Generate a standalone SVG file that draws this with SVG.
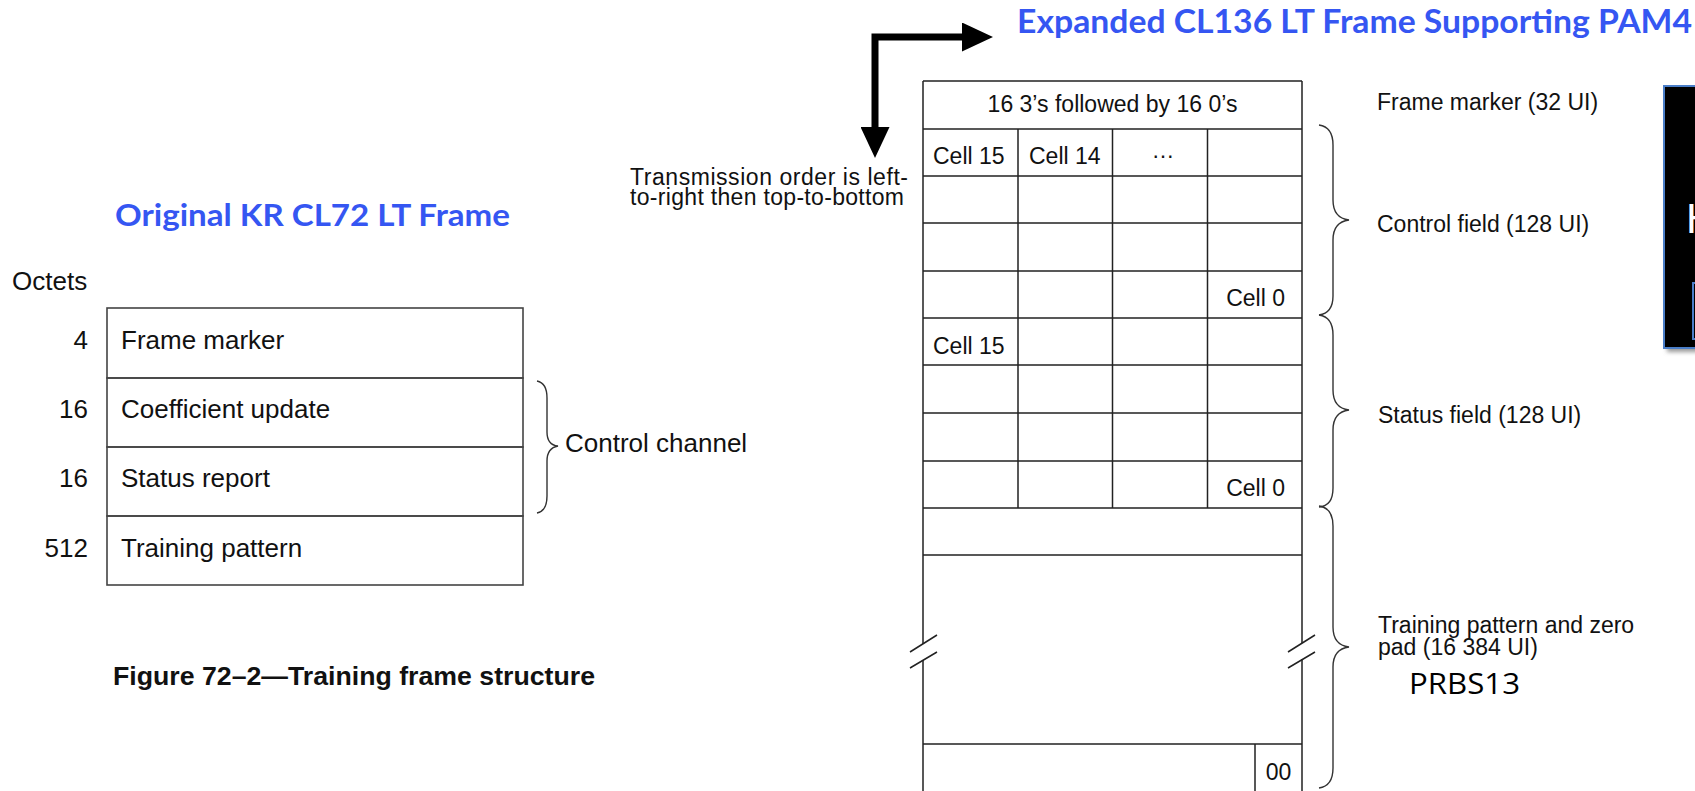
<svg xmlns="http://www.w3.org/2000/svg" width="1695" height="791" viewBox="0 0 1695 791">
<style>
  .t { font-family: "Liberation Sans", Arial, Helvetica, sans-serif; fill: #111; }
  .l26 { font-size: 26px; }
  .r23 { font-size: 23px; }
  .title { font-family: Lato, "Open Sans", sans-serif; font-weight: bold; fill: #3556F2; }
  .box { fill: none; stroke: #444; stroke-width: 1.6; }
  .grid { fill: none; stroke: #222; stroke-width: 1.5; }
  .brace { fill: none; stroke: #333; stroke-width: 1.4; }
  .arrow { fill: none; stroke: #000; stroke-width: 7; }
</style>
<defs>
  <marker id="head" viewBox="0 0 31 29" refX="0" refY="14.5" markerWidth="31" markerHeight="29" markerUnits="userSpaceOnUse" orient="auto-start-reverse">
    <path d="M0,0 L31,14.5 L0,29 z" fill="#000"/>
  </marker>
  <filter id="shadow" x="-20%" y="-10%" width="140%" height="130%">
    <feGaussianBlur stdDeviation="2"/>
  </filter>
</defs>
<rect width="1695" height="791" fill="#fff"/>

<!-- Left: original frame -->
<g id="title-original">
  <text class="title" x="115" y="226" font-size="31" textLength="395" lengthAdjust="spacingAndGlyphs">Original KR CL72 LT Frame</text>
</g>
<g id="octets-label">
  <text class="t l26" x="12" y="290">Octets</text>
</g>
<g id="row-frame-marker">
  <rect class="box" x="107" y="308" width="416" height="70"/>
  <text class="t l26" x="88" y="349" text-anchor="end">4</text>
  <text class="t l26" x="121" y="349">Frame marker</text>
</g>
<g id="row-coefficient-update">
  <rect class="box" x="107" y="378" width="416" height="69"/>
  <text class="t l26" x="88" y="418" text-anchor="end">16</text>
  <text class="t l26" x="121" y="418">Coefficient update</text>
</g>
<g id="row-status-report">
  <rect class="box" x="107" y="447" width="416" height="69"/>
  <text class="t l26" x="88" y="487" text-anchor="end">16</text>
  <text class="t l26" x="121" y="487">Status report</text>
</g>
<g id="row-training-pattern">
  <rect class="box" x="107" y="516" width="416" height="69"/>
  <text class="t l26" x="88" y="557" text-anchor="end">512</text>
  <text class="t l26" x="121" y="557">Training pattern</text>
</g>
<g id="control-channel-label">
  <text class="t l26" x="565" y="452">Control channel</text>
</g>
<g id="caption">
  <text class="t" x="113" y="685" font-size="25" font-weight="bold" textLength="482" lengthAdjust="spacingAndGlyphs">Figure 72–2—Training frame structure</text>
</g>

<!-- Right: expanded frame -->
<g id="title-expanded">
  <text class="title" x="1017" y="33" font-size="32" textLength="675" lengthAdjust="spacingAndGlyphs">Expanded CL136 LT Frame Supporting PAM4</text>
</g>
<g id="transmission-note">
  <text class="t r23" x="630" y="185" textLength="278">Transmission order is left-</text>
  <text class="t r23" x="630" y="205" textLength="274">to-right then top-to-bottom</text>
</g>
<g id="expanded-frame">
  <path class="grid" d="M923,81 H1302 M923,129 H1302 M923,176 H1302 M923,223 H1302 M923,271 H1302 M923,318 H1302 M923,365 H1302 M923,413 H1302 M923,461 H1302 M923,508 H1302 M923,555 H1302 M923,744 H1302"/>
  <path class="grid" d="M923,81 V644 M923,660 V792 M1302,81 V643 M1302,659 V792"/>
  <path class="grid" d="M1018,129 V508 M1112.5,129 V508 M1207.5,129 V508 M1255,744 V792"/>
  <path class="grid" d="M910,652 L937,635 M910,668 L937,652 M1288,652 L1315,635 M1288,668 L1315,652"/>
  <text class="t r23" x="1112.5" y="112" text-anchor="middle">16 3’s followed by 16 0’s</text>
  <text class="t r23" x="933" y="164">Cell 15</text>
  <text class="t r23" x="1029" y="164">Cell 14</text>
  <text class="t r23" x="1163" y="158" text-anchor="middle">…</text>
  <text class="t r23" x="1285" y="306" text-anchor="end">Cell 0</text>
  <text class="t r23" x="933" y="354">Cell 15</text>
  <text class="t r23" x="1285" y="496" text-anchor="end">Cell 0</text>
  <text class="t r23" x="1278.5" y="780" text-anchor="middle">00</text>
</g>
<g id="label-frame-marker">
  <text class="t r23" x="1377" y="110">Frame marker (32 UI)</text>
</g>
<g id="label-control-field">
  <text class="t r23" x="1377" y="232">Control field (128 UI)</text>
</g>
<g id="label-status-field">
  <text class="t r23" x="1378" y="423">Status field (128 UI)</text>
</g>
<g id="label-training">
  <text class="t r23" x="1378" y="633">Training pattern and zero</text>
  <text class="t r23" x="1378" y="655">pad (16 384 UI)</text>
  <text x="1409" y="694" font-family="'Open Sans', 'Noto Sans', sans-serif" font-size="29" fill="#000" textLength="111" lengthAdjust="spacingAndGlyphs">PRBS13</text>
</g>

<!-- Partial black box at right edge -->
<g id="side-box">
  <rect x="1667" y="90" width="40" height="262" fill="#999" filter="url(#shadow)"/>
  <rect x="1664" y="86" width="40" height="262" fill="#000" stroke="#4A7EC8" stroke-width="2"/>
  <text x="1686" y="233" font-family="'Liberation Sans', sans-serif" font-size="42" fill="#fff">H</text>
  <rect x="1693" y="283" width="20" height="56" fill="#000" stroke="#4A7EC8" stroke-width="2"/>
</g>

<!-- Connectors: arrow and braces -->
<g id="connectors">
  <path class="arrow" d="M875,127 V37 H962" marker-start="url(#head)" marker-end="url(#head)"/>
  <path class="brace" d="M537,381 Q547,383 547,398 V432 Q547,445 558,446 Q547,448 547,461 V496 Q547,511 537,513"/>
  <path class="brace" d="M1319,125 Q1333,127 1333,145 V200 Q1333,218 1349,220 Q1333,222 1333,240 V296 Q1333,313 1319,315"/>
  <path class="brace" d="M1319,315 Q1333,317 1333,335 V390 Q1333,408 1349,410 Q1333,412 1333,430 V488 Q1333,506 1319,507"/>
  <path class="brace" d="M1319,506 Q1333,508 1333,526 V627 Q1333,645 1349,647 Q1333,649 1333,667 V768 Q1333,786 1319,788"/>
</g>
</svg>
